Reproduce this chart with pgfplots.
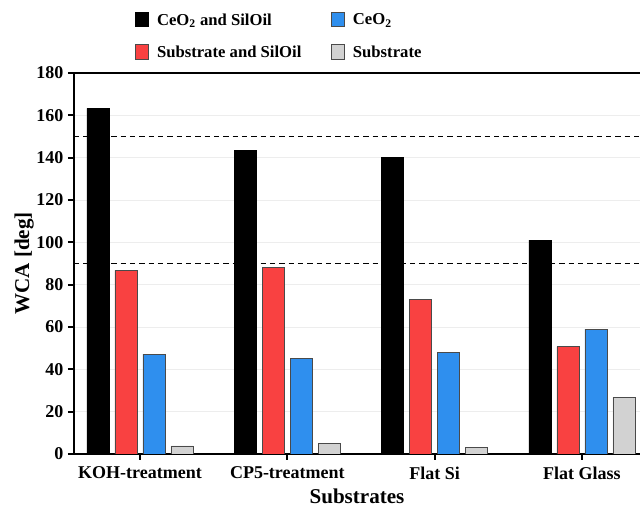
\documentclass[border=0pt]{standalone}
\usepackage{pgfplots}
\pgfplotsset{compat=1.18}
\usepackage{fontspec}
\setmainfont{Liberation Serif}
\definecolor{cred}{HTML}{F94141}
\definecolor{cblue}{HTML}{2F8FEE}
\definecolor{cgray}{HTML}{D2D2D2}
\definecolor{cgrid}{HTML}{EDEDED}
\definecolor{cedge}{HTML}{4A4A4A}
\begin{document}
\begin{tikzpicture}[font=\bfseries]
\begin{axis}[
  scale only axis, width=424.5pt, height=285.75pt,
  xmin=-0.448, xmax=3.394, ymin=0, ymax=180,
  axis x line=box, axis y line=left,
  axis line style={line width=1.5pt, -},
  xtick={0,1,2,3},
  xticklabels={KOH-treatment,CP5-treatment,Flat Si,Flat Glass},
  ytick={0,20,...,180},
  xtick pos=lower, ytick pos=left,
  tick align=outside, major tick length=4.5pt,
  tick style={line width=1.5pt, black},
  ymajorgrids, grid style={cgrid, line width=0.6pt},
  extra y ticks={90,150}, extra y tick labels={},
  extra y tick style={major tick length=0pt, grid=major,
    major grid style={black, line width=1.1pt, dash pattern=on 4pt off 3pt}},
  ticklabel style={font=\fontsize{13.5}{15}\selectfont\bfseries},
  xticklabel style={yshift=-1.5pt},
  /pgf/number format/assume math mode=true,
  ylabel={WCA [deg]}, xlabel={Substrates},
  ylabel shift=-9.5pt,
  label style={font=\fontsize{15.8}{18}\selectfont\bfseries},
  ybar, bar width=16.5pt,
  legend columns=2,
  legend cell align=left,
  legend style={at={(0.1,1.171)}, anchor=north west, draw=none, fill=none,
    font=\fontsize{12.5}{14}\selectfont\bfseries,
    /tikz/every even column/.append style={column sep=20pt}, row sep=10pt},
  legend image code/.code={\draw[#1] (0pt,-5pt) rectangle (10pt,6pt); \path (14pt,0pt);},
]
\coordinate (o) at (rel axis cs:0,0);
\addplot[bar shift=-31.5pt, fill=black, draw=black, line width=0.6pt, forget plot] coordinates {(0,163.3) (1,143.3) (2,140) (3,101)};
\addplot[bar shift=-10.5pt, fill=cred, draw=cedge, line width=0.6pt, forget plot] coordinates {(0,86.8) (1,88) (2,73) (3,50.7)};
\addplot[bar shift=10.5pt, fill=cblue, draw=cedge, line width=0.6pt, forget plot] coordinates {(0,47.2) (1,45.3) (2,48) (3,59)};
\addplot[bar shift=31.5pt, fill=cgray, draw=cedge, line width=0.6pt, forget plot] coordinates {(0,3.8) (1,5) (2,3.3) (3,26.8)};
\addlegendimage{fill=black, draw=black, line width=0.6pt}
\addlegendentry{CeO\textsubscript{2} and SilOil}
\addlegendimage{fill=cblue, draw=cedge, line width=0.6pt}
\addlegendentry{CeO\textsubscript{2}}
\addlegendimage{fill=cred, draw=cedge, line width=0.6pt}
\addlegendentry{Substrate and SilOil}
\addlegendimage{fill=cgray, draw=cedge, line width=0.6pt}
\addlegendentry{Substrate}
\end{axis}
\pgfresetboundingbox
\path[use as bounding box] (o) ++(-55.5pt,-42pt) rectangle ++(480pt,382.5pt);
\end{tikzpicture}
\end{document}
